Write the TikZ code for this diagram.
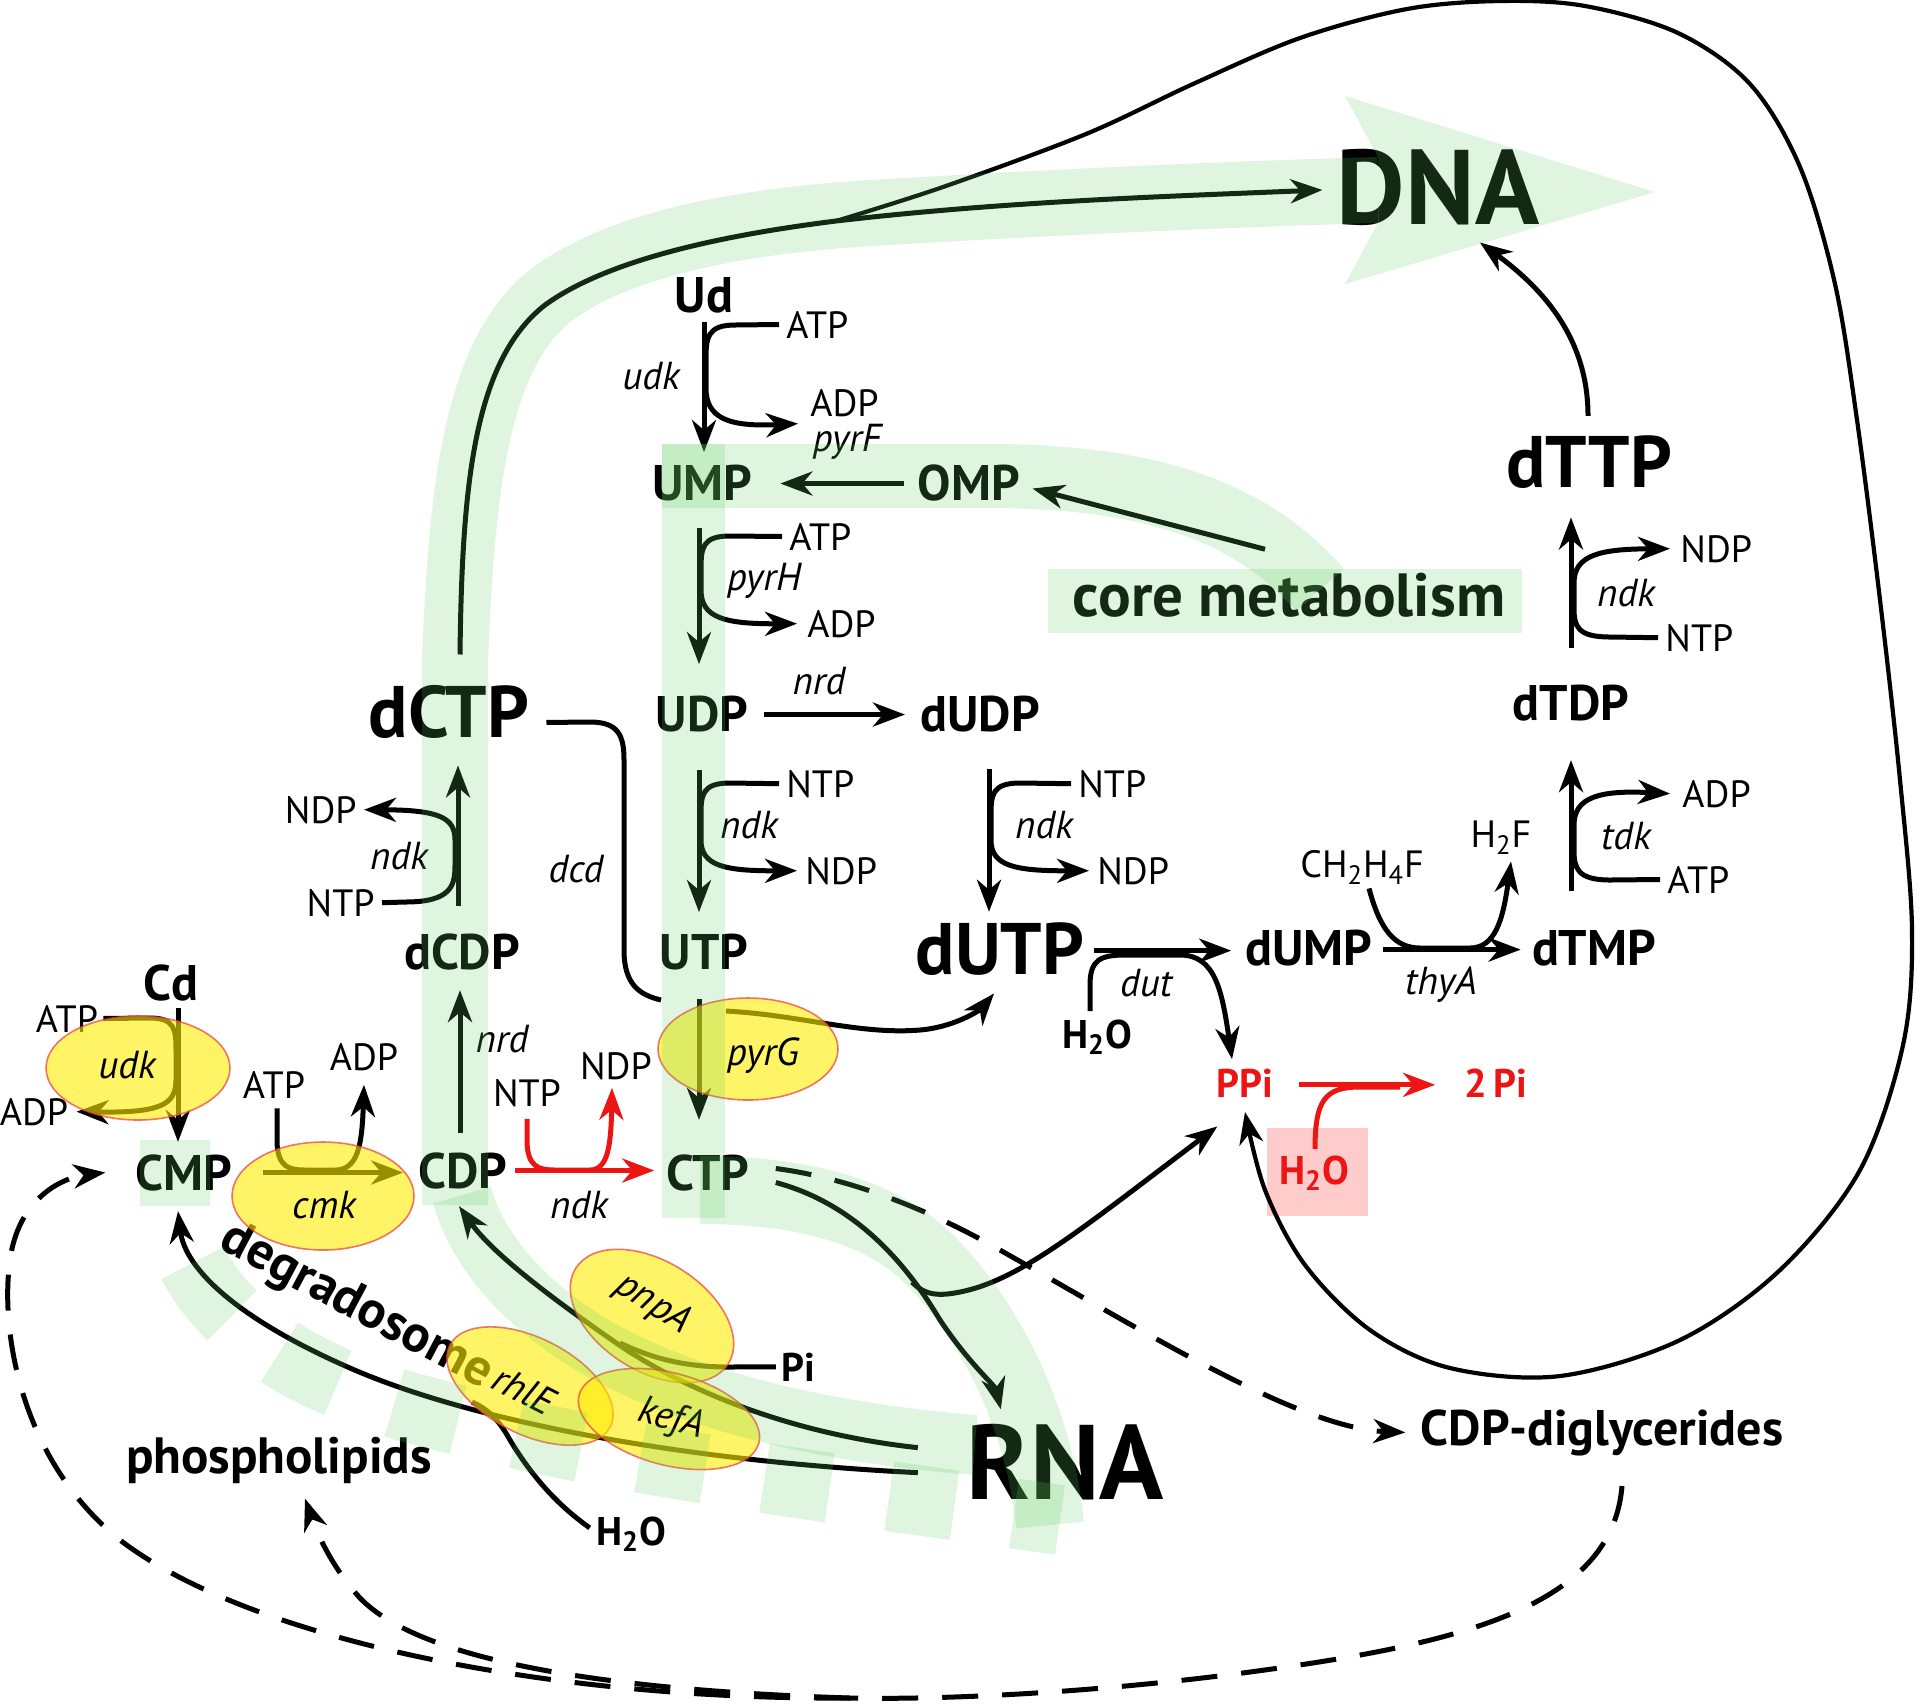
\documentclass[tikz,border=0pt]{standalone}
\usepackage{fontspec}
\setmainfont{PT Sans}
\usetikzlibrary{arrows.meta,shapes.geometric,calc}
\definecolor{bandg}{RGB}{95,205,95}
\definecolor{ellY}{RGB}{255,235,0}
\definecolor{ellR}{RGB}{235,60,60}
\definecolor{pinkbx}{RGB}{255,204,204}
\definecolor{rxred}{RGB}{237,20,20}
\newcommand\fsm{\fontsize{19}{21}\selectfont}
\newcommand\fit{\fontsize{19.5}{21}\selectfont\itshape}
\newcommand\fmol{\fontsize{25}{28}\selectfont\bfseries}
\newcommand\fbig{\fontsize{36.5}{40}\selectfont\bfseries}
\newcommand\fdna{\fontsize{53}{58}\selectfont\bfseries}
\newcommand\frna{\fontsize{53}{58}\selectfont\bfseries}
\newcommand\fwat{\fontsize{20}{22}\selectfont\bfseries}
\newcommand\fphos{\fontsize{25.5}{28}\selectfont\bfseries}
\newcommand\fcdp{\fontsize{25}{28}\selectfont\bfseries}
\newcommand\fcore{\fontsize{30.5}{33}\selectfont\bfseries}
\newcommand\fdeg{\fontsize{26}{28}\selectfont\bfseries}
\begin{document}
\begin{tikzpicture}[x=0.5pt,y=-0.5pt,
  lb/.style={anchor=base,inner sep=1pt},
  lbw/.style={anchor=base west,inner sep=1pt},
  lbe/.style={anchor=base east,inner sep=1pt},
  ln/.style={line width=2.5pt},
  arr/.style={line width=2.5pt,-{Stealth[length=16pt,width=12pt,inset=5pt]}},
  darr/.style={arr,dash pattern=on 18pt off 12pt},
  redarr/.style={arr,draw=rxred},
  enz/.style={ellipse,fill=ellY,fill opacity=0.6,draw=ellR,draw opacity=0.7,line width=0.8pt,inner sep=0pt},
  gband/.style={draw=bandg,draw opacity=0.2,line width=#1},
]
\useasboundingbox (0,0) rectangle (1920,1704);

% pink box
\node[fill=pinkbx,inner sep=0pt,minimum width=50.5pt,minimum height=44pt] (pinkbox) at (1317,1172) {};

% ---------- text ----------
\node[lb] (DNA) at (1438,224) {\fdna DNA};
\node[lb] (Ud) at (704,312) {\fmol Ud};
\node[lbw] (ATP1) at (784,338) {\fsm ATP};
\node[lb] (udk1) at (651,389) {\fit udk};
\node[lbw] (ADP1) at (808,416) {\fsm ADP};
\node[lb] (pyrF) at (847,451) {\fit pyrF};
\node[lb] (UMP) at (702,500) {\fmol UMP};
\node[lb] (OMP) at (969,500) {\fmol OMP};
\node[lbw] (ATP2) at (787,550) {\fsm ATP};
\node[lb] (pyrH) at (764,590) {\fit pyrH};
\node[lbw] (ADP2) at (805,637) {\fsm ADP};
\node[lb] (core) at (1289,616) {\fcore core metabolism};
\node[lb] (UDP) at (702,731) {\fmol UDP};
\node[lb] (nrd1) at (819,694) {\fit nrd};
\node[lb] (dUDP) at (980,731) {\fmol dUDP};
\node[lbw] (NTP1) at (784,797) {\fsm NTP};
\node[lb] (ndk1) at (749,838) {\fit ndk};
\node[lbw] (NDP1) at (803,884) {\fsm NDP};
\node[lbw] (NTP2) at (1076,797) {\fsm NTP};
\node[lb] (ndk2) at (1044,838) {\fit ndk};
\node[lbw] (NDP2) at (1095,884) {\fsm NDP};
\node[lb] (UTP) at (704,969) {\fmol UTP};
\node[lb] (dUTP) at (1000,974) {\fbig dUTP};
\node[lb] (dUMP) at (1309,965) {\fmol dUMP};
\node[lb] (dTMP) at (1594,965) {\fmol dTMP};
\node[lb] (thyA) at (1441,994) {\fit thyA};
\node[lb] (dut) at (1146,996) {\fit dut};
\node[lb] (H2Oa) at (1097,1048) {\fwat H\textsubscript{2}O};
\node[lb] (CH2) at (1362,877) {\fsm CH\textsubscript{2}H\textsubscript{4}F};
\node[lb] (H2F) at (1501,847) {\fsm H\textsubscript{2}F};
\node[lbw] (ADP3) at (1680,807) {\fsm ADP};
\node[lb] (tdk) at (1626,849) {\fit tdk};
\node[lbw] (ATP3) at (1665,893) {\fsm ATP};
\node[lb] (dTDP) at (1571,720) {\fmol dTDP};
\node[lbw] (NDP3) at (1678,562) {\fsm NDP};
\node[lb] (ndk3) at (1626,606) {\fit ndk};
\node[lbw] (NTP3) at (1663,651) {\fsm NTP};
\node[lb] (dTTP) at (1589,487) {\fbig dTTP};
\node[lb,text=rxred] (PPi) at (1245,1097) {\fwat PPi};
\node[lb,text=rxred] (twoPi) at (1496,1097) {\fwat 2\,Pi};
\node[lb,text=rxred] (H2Ob) at (1314,1184) {\fwat H\textsubscript{2}O};
\node[lb] (dCTP) at (449,737) {\fbig dCTP};
\node[lbe] (NDP4) at (359,823) {\fsm NDP};
\node[lb] (ndk4) at (399,869) {\fit ndk};
\node[lbe] (NTP4) at (377,916) {\fsm NTP};
\node[lb] (dcd) at (576,882) {\fit dcd};
\node[lb] (dCDP) at (462,969) {\fmol dCDP};
\node[lb] (Cd) at (171,1000) {\fmol Cd};
\node[lb] (ATP5) at (67,1032) {\fsm ATP};
\node[lb] (ADP5) at (34,1125) {\fsm ADP};
\node[lb] (CMP) at (184,1190) {\fmol CMP};
\node[lb] (ATP6) at (274,1098) {\fsm ATP};
\node[lb] (ADP6) at (364,1070) {\fsm ADP};
\node[lb] (nrd2) at (502,1052) {\fit nrd};
\node[lb] (CDP) at (463,1188) {\fmol CDP};
\node[lb] (NTP6) at (527,1106) {\fsm NTP};
\node[lb] (NDP6) at (616,1079) {\fsm NDP};
\node[lb] (ndk6) at (579,1218) {\fit ndk};
\node[lb] (CTP) at (708,1190) {\fmol CTP};
\node[lb] (Pi) at (798,1381) {\fwat Pi};
\node[lb] (RNA) at (1065,1499) {\frna RNA};
\node[lb] (H2Oc) at (631,1545) {\fwat H\textsubscript{2}O};
\node[lb] (phos) at (279,1473) {\fphos phospholipids};
\node[lb] (cdpdg) at (1602,1445) {\fcdp CDP-diglycerides};
\node[lb,rotate=-28] (degr) at (350,1318) {\fdeg degradosome};

% ---------- reactions ----------
% udk (Ud -> UMP)
\draw[arr] ($(Ud.south)+(0,7)$) -- ($(Ud.south |- UMP.north)+(0,-10)$);
\draw[arr] ($(ATP1.west)+(-5,0)$) -- (735,325) .. controls (707,325) and (706,338) .. (706,360) -- (706,388)
  .. controls (706,418) and (728,427) .. ($(ADP1.west)+(-10,21)$);
% OMP -> UMP
\draw[arr] ($(OMP.west)+(-12,1)$) -- ($(OMP.west -| UMP.east)+(26,1)$);
% core -> OMP
\draw[arr] ($(core.north)+(-24,-21)$) -- ($(OMP.east)+(10,6)$);
% pyrH
\draw[arr] ($(UMP.south)+(-3,25)$) -- ($(UMP.south |- UDP.north)+(-3,-29)$);
\draw[arr] ($(ATP2.west)+(-5,0)$) -- (730,536) .. controls (702,536) and (701,548) .. (701,570) -- (701,590)
  .. controls (701,618) and (725,624) .. ($(ADP2.west)+(-8,0)$);
% nrd UDP -> dUDP
\draw[arr] ($(UDP.east)+(13,1)$) -- ($(UDP.east -| dUDP.west)+(-13,1)$);
% ndk UDP -> UTP
\draw[arr] ($(UDP.south)+(-3,36)$) -- ($(UDP.south |- UTP.north)+(-3,-19)$);
\draw[arr] ($(NTP1.west)+(-5,0)$) -- (730,783) .. controls (702,783) and (701,795) .. (701,815) -- (701,840)
  .. controls (701,866) and (725,871) .. ($(NDP1.west)+(-6,0)$);
% ndk dUDP -> dUTP
\draw[arr] ($(dUDP.south)+(9,35)$) -- ($(dUDP.south |- dUTP.north)+(9,-8)$);
\draw[arr] ($(NTP2.west)+(-5,0)$) -- (1020,783) .. controls (992,783) and (991,795) .. (991,815) -- (991,840)
  .. controls (991,866) and (1015,871) .. ($(NDP2.west)+(-6,0)$);
% dut
\draw[arr] ($(dUTP.east)+(7,2)$) -- ($(dUTP.east -| dUMP.west)+(-12,2)$);
\draw[arr] ($(H2Oa.north)+(-7,-6)$) -- (1090,985) .. controls (1090,960) and (1100,955) .. (1125,955) -- (1180,955)
  .. controls (1215,955) and (1222,990) .. ($(PPi.north)+(-13,-7)$);
% thyA
\draw[arr] ($(dUMP.east)+(8,2)$) -- ($(dUMP.east -| dTMP.west)+(-9,2)$);
\draw[arr] ($(CH2.south)+(7,2)$) .. controls (1380,930) and (1395,948) .. (1420,948) -- (1470,948)
  .. controls (1495,948) and (1503,920) .. ($(H2F.south)+(10,5)$);
% tdk
\draw[arr] ($(dTDP.south |- dTMP.north)+(0,-36)$) -- ($(dTDP.south)+(0,37)$);
\draw[arr] ($(ATP3.west)+(-5,0)$) -- (1610,880) .. controls (1577,880) and (1574,868) .. (1574,850) -- (1574,825)
  .. controls (1574,797) and (1600,790) .. ($(ADP3.west)+(-10,0)$);
% ndk dTDP -> dTTP
\draw[arr] ($(dTDP.north)+(0,-34)$) -- ($(dTDP.north |- dTTP.south)+(0,27)$);
\draw[arr] ($(NTP3.west)+(-5,0)$) -- (1610,637) .. controls (1577,637) and (1574,626) .. (1574,608) -- (1574,583)
  .. controls (1574,555) and (1600,549) .. ($(NDP3.west)+(-8,0)$);
% dTTP -> DNA
\draw[arr] ($(dTTP.north)+(-1,-17)$) .. controls (1588,340) and (1545,290) .. ($(DNA.south)+(42,15)$);
% dCTP -> DNA
\draw[arr] ($(dCTP.north)+(11,-28)$) .. controls (462,480) and (475,360) .. (545,305)
  .. controls (600,265) and (700,238) .. (836,221) coordinate (loopstart)
  .. controls (1000,202) and (1150,197) .. ($(DNA.west)+(-12,3)$);
% large loop to PPi
\draw[line width=2.1pt,-{Stealth[length=16pt,width=12pt,inset=5pt]}] plot[smooth,tension=0.55] coordinates {
 (836,221) (943,187) (1086,134) (1193,84) (1300,38) (1407,9) (1500,1) (1585,6) (1678,33) (1750,84)
 (1800,167) (1835,284) (1857,420) (1880,600) (1900,780) (1912,930) (1903,1045) (1860,1170) (1780,1270)
 (1680,1340) (1560,1376) (1450,1368) (1370,1330) (1305,1265) (1265,1190) (1245,1112)};
% ndk dCDP -> dCTP
\draw[arr] ($(dCDP.north)+(-4,-25)$) -- ($(dCDP.north |- dCTP.south)+(-4,25)$);
\draw[arr] ($(NTP4.east)+(5,0)$) -- (405,902) .. controls (452,902) and (455,885) .. (455,865) -- (455,840)
  .. controls (455,818) and (440,810) .. ($(NDP4.east)+(5,0)$);
% nrd CDP -> dCDP
\draw[arr] ($(CDP.north)+(-3,-17)$) -- ($(CDP.north |- dCDP.south)+(-3,18)$);
% dcd
\draw[ln] ($(dCTP.east)+(15,11)$) -- (590,722) .. controls (618,722) and (624,735) .. (624,760) -- (624,950)
  .. controls (624,985) and (640,995) .. (661,1000);
\draw[arr] (726,1011) .. controls (800,1015) and (860,1035) .. (920,1030)
  .. controls (955,1027) and (980,1010) .. ($(dUTP.south)+(-6,16)$);
% pyrG UTP -> CTP
\draw[arr] ($(UTP.south)+(-5,27)$) -- ($(UTP.south |- CTP.north)+(-5,-32)$);
% udk Cd -> CMP
\draw[arr] ($(Cd.south)+(7,5)$) -- ($(Cd.south |- CMP.north)+(7,-10)$);
\draw[arr] ($(ATP5.east)+(3,0)$) -- (150,1018) .. controls (175,1018) and (176,1030) .. (176,1050) -- (176,1080)
  .. controls (176,1105) and (160,1113) .. ($(ADP5.east)+(6,0)$);
% cmk
\draw[arr] ($(CMP.east)+(28,0)$) -- ($(CMP.east -| CDP.west)+(-13,0)$);
\draw[arr] ($(ATP6.south)+(3,8)$) -- (277,1140) .. controls (277,1168) and (290,1170) .. (305,1170) -- (335,1170)
  .. controls (358,1170) and (362,1145) .. ($(ADP6.south)+(0,12)$);
% ndk CDP -> CTP (red)
\draw[redarr] ($(CDP.east)+(5,0)$) -- ($(CDP.east -| CTP.west)+(-10,0)$);
\draw[redarr] ($(NTP6.south)+(0,10)$) -- (527,1140) .. controls (527,1168) and (540,1170) .. (555,1170) -- (590,1170)
  .. controls (608,1170) and (611,1145) .. ($(NDP6.south)+(-4,6)$);
% CTP -> RNA
\draw[arr] ($(CTP.east)+(24,10)$) .. controls (860,1205) and (910,1270) .. (940,1320)
  .. controls (970,1365) and (995,1385) .. ($(RNA.north west)+(37,-12)$);
\coordinate (brPPi) at (912,1282);
\draw[arr] (brPPi) .. controls (925,1296) and (940,1296) .. (960,1292)
  .. controls (1020,1280) and (1080,1230) .. ($(PPi.south west)+(3,27)$);
% pnpA RNA -> CDP
\draw[arr] ($(RNA.west)+(-46,-14)$) .. controls (800,1435) and (690,1395) .. (612,1340)
  .. controls (540,1290) and (490,1250) .. ($(CDP.south)+(-4,15)$);
\draw[ln] ($(Pi.west)+(-3,0)$) -- (728,1367) .. controls (690,1367) and (655,1360) .. (620,1343);
% degradosome RNA -> CMP
\draw[arr] ($(RNA.west)+(-46,11)$) .. controls (700,1462) and (480,1425) .. (350,1368)
  .. controls (240,1320) and (185,1270) .. ($(CMP.south)+(-6,18)$);
\draw[ln] ($(H2Oc.west)+(-4,-6)$) .. controls (550,1500) and (525,1465) .. (510,1440)
  .. controls (500,1422) and (490,1410) .. (472,1402);
% PPi -> 2 Pi (red)
\draw[redarr] ($(PPi.east)+(23,2)$) -- ($(PPi.east -| twoPi.west)+(-27,2)$);
\draw[line width=2.5pt,draw=rxred] ($(H2Ob.north)+(1,-4)$) .. controls (1315,1100) and (1325,1087) .. (1360,1087) -- (1400,1087);
% dashed
\draw[darr] ($(CTP.east)+(24,-4)$) .. controls (850,1178) and (930,1210) .. (1000,1250)
  .. controls (1150,1335) and (1300,1428) .. ($(cdpdg.west)+(-13,0)$);
\draw[ln,dash pattern=on 18pt off 12pt] ($(cdpdg.south)+(20,28)$) .. controls (1612,1610) and (1450,1645) .. (1250,1672)
  .. controls (1100,1692) and (950,1700) .. (850,1698) coordinate (split);
\draw[darr] (split) .. controls (600,1690) and (420,1660) .. (360,1598)
  .. controls (330,1565) and (316,1530) .. ($(phos.south)+(26,13)$);
\draw[darr] (split) .. controls (550,1700) and (250,1640) .. (120,1540)
  .. controls (20,1460) and (0,1330) .. (10,1260) .. controls (18,1200) and (60,1178) .. ($(CMP.west)+(-28,0)$);

% ---------- enzymes ----------
\node[enz,minimum width=92pt,minimum height=52pt] (Eudk) at (138,1068) {};
\node[enz,minimum width=91pt,minimum height=54pt] (Ecmk) at (323,1196) {};
\node[enz,minimum width=90pt,minimum height=51pt] (EpyrG) at (748,1049) {};
\node[enz,rotate=-32,minimum width=90pt,minimum height=55pt] (EpnpA) at (652,1316) {};
\node[enz,rotate=-27,minimum width=90pt,minimum height=48pt] (ErhlE) at (530,1386) {};
\node[enz,rotate=-15,minimum width=93pt,minimum height=46pt] (EkefA) at (669,1419) {};
\node[lb] (udk2) at (127,1078) {\fit udk};
\node[lb] (cmk) at (324,1218) {\fit cmk};
\node[lb] (pyrG) at (763,1065) {\fit pyrG};
\node[rotate=-33,inner sep=1pt] (pnpA) at (653,1304) {\fit pnpA};
\node[rotate=-27,inner sep=1pt] (rhlE) at (524,1390) {\fit rhlE};
\node[rotate=-15,inner sep=1pt] (kefA) at (671,1420) {\fit kefA};

% ---------- green bands ----------
\draw[gband=33pt] (455,1205) -- (455,660) .. controls (462,480) and (478,360) .. (545,300)
  .. controls (600,255) and (700,225) .. (856,214) .. controls (1000,205) and (1200,195) .. (1378,190);
\fill[bandg,fill opacity=0.2] (1345,96) -- (1655,192) -- (1345,284) -- (1378,223) -- (1378,157) -- cycle;
\draw[gband=32pt] (662,476) -- (1000,476) .. controls (1150,478) and (1250,510) .. (1320,590);
\draw[gband=31.5pt] (693,444) -- (693,1218);
\draw[gband=34pt] (700,1190) .. controls (800,1190) and (880,1210) .. (930,1260)
  .. controls (990,1320) and (1040,1420) .. (1050,1525);
\draw[gband=30pt] (462,1195) .. controls (480,1260) and (540,1320) .. (620,1360)
  .. controls (720,1410) and (850,1435) .. (975,1445);
\draw[gband=35pt,dash pattern=on 33pt off 30pt] (175,1140) -- (175,1206) .. controls (185,1300) and (280,1375) .. (420,1410)
  .. controls (600,1460) and (850,1490) .. (1060,1520);
\node[fill=bandg,fill opacity=0.2,inner sep=0pt,minimum width=237pt,minimum height=32pt] (corebox) at (1285,601) {};
\end{tikzpicture}
\end{document}
